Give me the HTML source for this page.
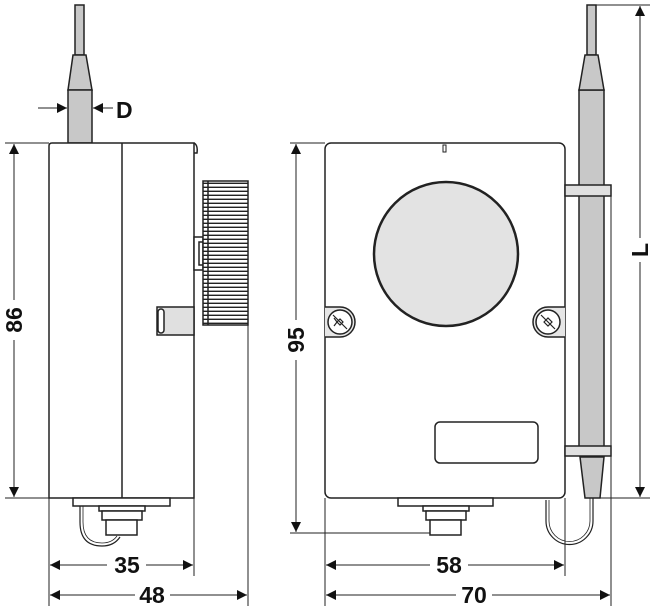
<!DOCTYPE html>
<html><head><style>html,body{margin:0;padding:0;background:#fff}svg{display:block}text{font-family:"Liberation Sans Narrow","Liberation Sans",sans-serif;font-size:23px;fill:#111;font-weight:bold}</style></head><body>
<svg width="658" height="614" viewBox="0 0 658 614" xmlns="http://www.w3.org/2000/svg">
<defs>
<marker id="a" viewBox="0 0 10 10" refX="10" refY="5" markerWidth="13" markerHeight="10" markerUnits="userSpaceOnUse" orient="auto-start-reverse"><path d="M0,0L10,5L0,10z" fill="#111"/></marker>
<pattern id="k" width="4" height="4" patternUnits="userSpaceOnUse"><rect width="4" height="4" fill="#fff"/><rect y="2.6" width="4" height="1.4" fill="#222"/></pattern>
</defs>
<g stroke="#222" stroke-width="1.5" fill="none">
<rect x="75" y="5" width="9" height="50" fill="#c8c8c8"/>
<path d="M73,55H86L92,90H68Z" fill="#c8c8c8"/>
<rect x="68" y="90" width="24" height="53" fill="#c8c8c8"/>
<path d="M49,498V146Q49,143 52,143H194V498Z" fill="#fff"/>
<line x1="122" y1="143" x2="122" y2="498"/>
<path d="M194,143Q198,145 197,153H194" />
<rect x="194" y="237" width="9" height="33" fill="#fff"/>
<rect x="199" y="242" width="4" height="23" fill="#fff"/>
<rect x="203" y="181" width="45" height="144" fill="url(#k)"/>
<line x1="208" y1="181" x2="208" y2="325"/>
<rect x="157" y="307" width="37" height="28" fill="#e0e0e0"/>
<rect x="158" y="309" width="6" height="24" rx="3" fill="#fff"/>
<rect x="73" y="498" width="97" height="8" fill="#fff"/>
<rect x="99" y="506" width="46" height="5" fill="#fff"/>
<rect x="102" y="511" width="40" height="9" fill="#fff"/>
<rect x="106" y="520" width="31" height="15" fill="#fff"/>
<path d="M80,506V522Q80,546 102,546Q114,546 120,537" stroke-width="1.2"/>
<path d="M83,506V522Q83,543 102,543Q112,543 117,536" stroke-width="0.8"/>
<rect x="579" y="90" width="25" height="360" fill="#c8c8c8"/>
<rect x="587" y="5" width="9" height="50" fill="#c8c8c8"/>
<path d="M585,55H598L604,90H579Z" fill="#c8c8c8"/>
<path d="M580,457H604L600,498H585Z" fill="#c8c8c8"/>
<rect x="325" y="143" width="240" height="355" rx="6" fill="#fff"/>
<rect x="443" y="145" width="3" height="7" fill="#fff" stroke-width="1"/>
<circle cx="446" cy="254" r="72" fill="#e3e3e3" stroke-width="2.5"/>
<path d="M325,307H340A15,15 0 0 1 340,337H325" fill="#e6e6e6"/>
<circle cx="340" cy="322" r="12" fill="#fff"/>
<path d="M333,315L347,329M334,326L337,322L334,318M337,322L340,319L343,322L340,325Z" stroke-width="1.2"/>
<path d="M565,307H548A15,15 0 0 0 548,337H565" fill="#e6e6e6"/>
<circle cx="548" cy="322" r="12" fill="#fff"/>
<path d="M541,315L555,329M544,322L548,318L552,322L548,326Z" stroke-width="1.2"/>
<rect x="435" y="422" width="103" height="41" rx="5" fill="#fff"/>
<rect x="565" y="185" width="46" height="11" fill="#e0e0e0"/>
<rect x="565" y="446" width="46" height="10" fill="#e0e0e0"/>
<rect x="398" y="498" width="95" height="8" fill="#fff"/>
<rect x="423" y="506" width="46" height="5" fill="#fff"/>
<rect x="426" y="511" width="40" height="9" fill="#fff"/>
<rect x="430" y="520" width="31" height="15" fill="#fff"/>
<path d="M546,500V521A23.5,23.5 0 0 0 593,521V498" stroke-width="1.2"/>
<path d="M549,500V521A20.5,20.5 0 0 0 590,521V498" stroke-width="0.8"/>
</g>
<g stroke="#222" stroke-width="1" fill="none">
<line x1="5" y1="143" x2="49" y2="143"/><line x1="5" y1="498" x2="49" y2="498"/>
<line x1="14" y1="300" x2="14" y2="144" marker-end="url(#a)"/>
<line x1="14" y1="340" x2="14" y2="497" marker-end="url(#a)"/>
<line x1="38" y1="108" x2="67" y2="108" marker-end="url(#a)"/>
<line x1="113" y1="108" x2="93" y2="108" marker-end="url(#a)"/>
<line x1="49" y1="498" x2="49" y2="606"/><line x1="194" y1="498" x2="194" y2="576"/><line x1="248" y1="325" x2="248" y2="606"/>
<line x1="107" y1="565" x2="50" y2="565" marker-end="url(#a)"/><line x1="146" y1="565" x2="193" y2="565" marker-end="url(#a)"/>
<line x1="135" y1="595" x2="50" y2="595" marker-end="url(#a)"/><line x1="170" y1="595" x2="247" y2="595" marker-end="url(#a)"/>
<line x1="290" y1="143" x2="325" y2="143"/><line x1="290" y1="533" x2="430" y2="533"/>
<line x1="296" y1="320" x2="296" y2="144" marker-end="url(#a)"/>
<line x1="296" y1="360" x2="296" y2="532" marker-end="url(#a)"/>
<line x1="325" y1="498" x2="325" y2="606"/><line x1="565" y1="498" x2="565" y2="576"/><line x1="611" y1="196" x2="611" y2="606"/>
<line x1="430" y1="565" x2="326" y2="565" marker-end="url(#a)"/><line x1="468" y1="565" x2="564" y2="565" marker-end="url(#a)"/>
<line x1="456" y1="595" x2="326" y2="595" marker-end="url(#a)"/><line x1="492" y1="595" x2="610" y2="595" marker-end="url(#a)"/>
<line x1="596" y1="5" x2="650" y2="5"/><line x1="600" y1="498" x2="650" y2="498"/>
<line x1="640" y1="238" x2="640" y2="6" marker-end="url(#a)"/>
<line x1="640" y1="262" x2="640" y2="497" marker-end="url(#a)"/>
</g>
<text x="116" y="118">D</text>
<text transform="translate(22,320) rotate(-90)" text-anchor="middle">86</text>
<text transform="translate(304,340) rotate(-90)" text-anchor="middle">95</text>
<text transform="translate(648,250) rotate(-90)" text-anchor="middle">L</text>
<text x="127" y="573" text-anchor="middle">35</text>
<text x="152" y="603" text-anchor="middle">48</text>
<text x="449" y="573" text-anchor="middle">58</text>
<text x="474" y="603" text-anchor="middle">70</text>
</svg>
</body></html>
